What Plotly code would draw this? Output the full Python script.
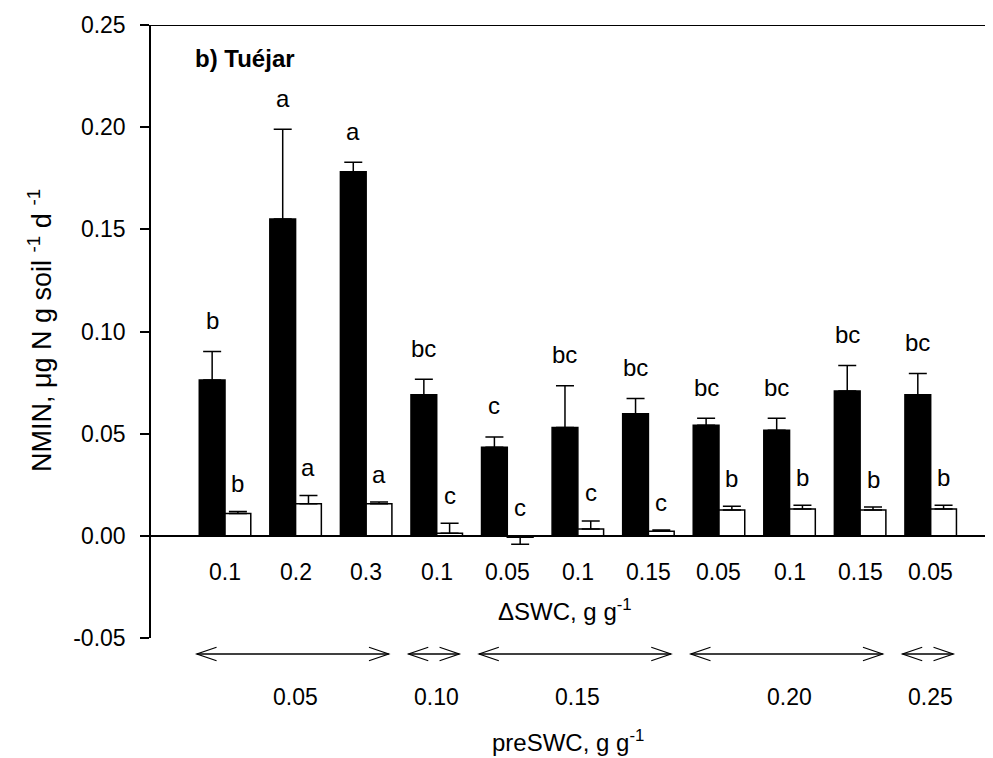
import plotly.graph_objects as go

# ---- data ----
dswc_labels = ["0.1", "0.2", "0.3", "0.1", "0.05", "0.1", "0.15", "0.05", "0.1", "0.15", "0.05"]
black_vals = [0.0763, 0.155, 0.1782, 0.0691, 0.0434, 0.0530, 0.0598, 0.0541, 0.0517, 0.0709, 0.0691]
black_err = [0.0139, 0.044, 0.0046, 0.0075, 0.0050, 0.0205, 0.0074, 0.0035, 0.0059, 0.0124, 0.0103]
white_vals = [0.0109, 0.0157, 0.0157, 0.0013, -0.0007, 0.0034, 0.0023, 0.0126, 0.0131, 0.0126, 0.0131]
white_err = [0.0010, 0.0040, 0.0008, 0.0049, 0.0034, 0.0039, 0.0005, 0.0019, 0.0019, 0.0015, 0.0019]
black_letters = ["b", "a", "a", "bc", "c", "bc", "bc", "bc", "bc", "bc", "bc"]
white_letters = ["b", "a", "a", "c", "c", "c", "c", "b", "b", "b", "b"]
pre_labels = ["0.05", "0.10", "0.15", "0.20", "0.25"]
pre_first = [0, 3, 4, 7, 10]
pre_last = [2, 3, 6, 9, 10]
yticks = [-0.05, 0.0, 0.05, 0.10, 0.15, 0.20, 0.25]
ytick_text = ["-0.05", "0.00", "0.05", "0.10", "0.15", "0.20", "0.25"]

FONT = "Liberation Sans, Arial, sans-serif"
x = list(range(len(dswc_labels)))
bargap = 0.27
bw = (1 - bargap) / 2

def up(v, e):
    return [ee if vv >= 0 else 0 for vv, ee in zip(v, e)]

def down(v, e):
    return [ee if vv < 0 else 0 for vv, ee in zip(v, e)]

fig = go.Figure()
fig.add_trace(go.Bar(
    x=x, y=black_vals, name="Rewetted",
    marker=dict(color="black", line=dict(color="black", width=1.5)),
    error_y=dict(type="data", symmetric=False, array=up(black_vals, black_err),
                 arrayminus=down(black_vals, black_err), color="black",
                 thickness=1.5, width=9),
))
fig.add_trace(go.Bar(
    x=x, y=white_vals, name="Control",
    marker=dict(color="white", line=dict(color="black", width=1.5)),
    error_y=dict(type="data", symmetric=False, array=up(white_vals, white_err),
                 arrayminus=down(white_vals, white_err), color="black",
                 thickness=1.5, width=9),
))

ann = []
for i in x:
    top_b = max(black_vals[i] + up(black_vals, black_err)[i], 0)
    ann.append(dict(x=i - bw / 2, y=top_b, xref="x", yref="y", text=black_letters[i],
                    showarrow=False, yanchor="middle", yshift=31,
                    font=dict(family=FONT, size=24, color="black")))
    top_w = max(white_vals[i] + up(white_vals, white_err)[i], 0)
    ann.append(dict(x=i + bw / 2, y=top_w, xref="x", yref="y", text=white_letters[i],
                    showarrow=False, yanchor="middle", yshift=28,
                    font=dict(family=FONT, size=24, color="black")))
    ann.append(dict(x=i, y=0, xref="x", yref="y", text=dswc_labels[i],
                    showarrow=False, yanchor="middle", yshift=-36,
                    font=dict(family=FONT, size=23, color="black")))

shapes = []
arrow_y = -0.0261
hl = 0.28
hh = 0.011
for lab, a, b in zip(pre_labels, pre_first, pre_last):
    x0 = a - 0.40
    x1 = b + 0.32
    shapes.append(dict(type="line", xref="x", yref="paper", x0=x0, x1=x1,
                       y0=arrow_y, y1=arrow_y, line=dict(color="black", width=1.5)))
    shapes.append(dict(type="path", xref="x", yref="paper",
                       path=f"M {x0 + hl},{arrow_y + hh} L {x0},{arrow_y} L {x0 + hl},{arrow_y - hh}",
                       line=dict(color="black", width=1.2)))
    shapes.append(dict(type="path", xref="x", yref="paper",
                       path=f"M {x1 - hl},{arrow_y + hh} L {x1},{arrow_y} L {x1 - hl},{arrow_y - hh}",
                       line=dict(color="black", width=1.2)))
    ann.append(dict(x=(a + b) / 2, y=-0.0962, xref="x", yref="paper", text=lab,
                    showarrow=False, yanchor="middle",
                    font=dict(family=FONT, size=23, color="black")))

shapes.append(dict(type="line", xref="paper", yref="y", x0=0, x1=1, y0=0.25, y1=0.25,
                   line=dict(color="black", width=2)))

ann.append(dict(x=0.4917, y=0.0457, xref="paper", yref="paper",
                text="\u0394SWC, g g<sup>-1</sup>", showarrow=False, yanchor="middle",
                font=dict(family=FONT, size=24, color="black")))
ann.append(dict(x=0.4947, y=-0.168, xref="paper", yref="paper",
                text="preSWC, g g<sup>-1</sup>", showarrow=False, yanchor="middle",
                font=dict(family=FONT, size=24, color="black")))
ann.append(dict(x=-0.1318, y=0.5008, xref="paper", yref="paper", textangle=-90,
                text="NMIN, \u03bcg N g soil <sup>-1</sup> d <sup>-1</sup>", showarrow=False,
                xanchor="center", yanchor="middle",
                font=dict(family=FONT, size=27, color="black")))
ann.append(dict(x=0.0495, y=0.946, xref="paper", yref="paper", text="<b>b) Tuéjar</b>",
                showarrow=False, xanchor="left", yanchor="middle",
                font=dict(family=FONT, size=24, color="black")))

# The page has an 8px body margin, so the figure is 8px smaller and margins shifted
fig.update_layout(
    width=985, height=750,
    margin=dict(l=143, r=0, t=17, b=120),
    paper_bgcolor="white", plot_bgcolor="white",
    barmode="group", bargap=bargap, bargroupgap=0,
    showlegend=False,
    annotations=ann, shapes=shapes,
    font=dict(family=FONT, color="black"),
)
fig.update_xaxes(range=[-1.049, 10.883], showticklabels=False, ticks="",
                 showline=False, showgrid=False, zeroline=False)
fig.update_yaxes(range=[-0.05, 0.25], tickvals=yticks, ticktext=ytick_text,
                 ticks="outside", ticklen=9, tickwidth=1.5, tickcolor="black",
                 ticklabelstandoff=10,
                 showline=True, linewidth=1.5, linecolor="black",
                 showgrid=False, zeroline=True, zerolinecolor="black", zerolinewidth=1.5,
                 tickfont=dict(family=FONT, size=23, color="black"))

fig.write_html("out.html")
